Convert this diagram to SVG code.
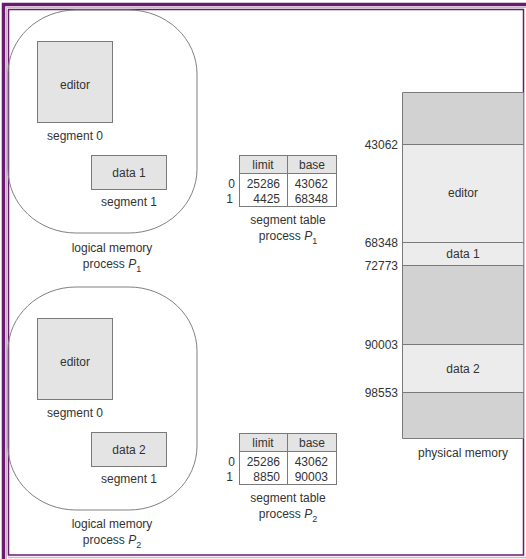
<svg xmlns="http://www.w3.org/2000/svg" width="526" height="559" viewBox="0 0 526 559">
<style>
text{font-family:"Liberation Sans",Arial,sans-serif;font-size:12px;fill:#333}
.m{text-anchor:middle}
.e{text-anchor:end}
.blob{fill:none;stroke:#808080;stroke-width:1}
.seg{fill:#e4e4e4;stroke:#7a7a7a;stroke-width:1}
.hdr{fill:#e4e4e4;stroke:none}
.tl{fill:none;stroke:#7a7a7a;stroke-width:1}
.dark{fill:#d2d2d2}
.light{fill:#ececec}
.div{stroke:#7a7a7a;stroke-width:1}
</style>
<rect width="526" height="559" fill="#fff"/>
<g id="frame">
<path d="M3.5,559 V4.5 H526" fill="none" stroke="#6a1b6e" stroke-width="3.5"/>
<path d="M6.5,559 V7.5 H526" fill="none" stroke="#cbb6cc" stroke-width="1"/>
<rect x="8.5" y="9.5" width="515" height="545.5" fill="none" stroke="#6a1b6e" stroke-width="1.5"/>
<line x1="8" y1="557.5" x2="526" y2="557.5" stroke="#c9bfcb" stroke-width="1.5"/>
</g>
<g id="logical-memory-p1">
<rect class="blob" x="8" y="10" width="189" height="223" rx="68" ry="64"/>
<rect class="seg" x="37.5" y="41.5" width="75" height="81"/>
<text class="m" x="75" y="89">editor</text>
<text class="m" x="75" y="140">segment 0</text>
<rect class="seg" x="91.5" y="155.5" width="75" height="34"/>
<text class="m" x="129" y="177">data 1</text>
<text class="m" x="129" y="206">segment 1</text>
<text class="m" x="112" y="252">logical memory</text>
<text class="m" x="112" y="268">process <tspan font-style="italic">P</tspan><tspan dy="4" font-size="9">1</tspan></text>
</g>
<g id="logical-memory-p2">
<rect class="blob" x="8" y="287" width="189" height="223" rx="68" ry="64"/>
<rect class="seg" x="37.5" y="318.5" width="75" height="81"/>
<text class="m" x="75" y="366">editor</text>
<text class="m" x="75" y="417">segment 0</text>
<rect class="seg" x="91.5" y="432.5" width="75" height="34"/>
<text class="m" x="129" y="454">data 2</text>
<text class="m" x="129" y="483">segment 1</text>
<text class="m" x="112" y="528">logical memory</text>
<text class="m" x="112" y="544">process <tspan font-style="italic">P</tspan><tspan dy="4" font-size="9">2</tspan></text>
</g>
<g id="segment-table-p1">
<rect class="hdr" x="239.5" y="155.5" width="97" height="18"/>
<rect class="tl" x="239.5" y="155.5" width="97" height="51"/>
<line class="div" x1="239.5" y1="173.5" x2="336.5" y2="173.5"/>
<line class="div" x1="287.5" y1="155.5" x2="287.5" y2="206.5"/>
<text class="m" x="263" y="169">limit</text>
<text class="m" x="312" y="169">base</text>
<text class="e" x="235" y="188">0</text>
<text class="e" x="233" y="203">1</text>
<text class="e" x="280" y="188">25286</text>
<text class="e" x="280" y="203">4425</text>
<text class="e" x="328" y="188">43062</text>
<text class="e" x="328" y="203">68348</text>
<text class="m" x="288" y="224">segment table</text>
<text class="m" x="288" y="240">process <tspan font-style="italic">P</tspan><tspan dy="4" font-size="9">1</tspan></text>
</g>
<g id="segment-table-p2">
<rect class="hdr" x="239.5" y="433.5" width="97" height="18"/>
<rect class="tl" x="239.5" y="433.5" width="97" height="51"/>
<line class="div" x1="239.5" y1="451.5" x2="336.5" y2="451.5"/>
<line class="div" x1="287.5" y1="433.5" x2="287.5" y2="484.5"/>
<text class="m" x="263" y="447">limit</text>
<text class="m" x="312" y="447">base</text>
<text class="e" x="235" y="466">0</text>
<text class="e" x="233" y="481">1</text>
<text class="e" x="280" y="466">25286</text>
<text class="e" x="280" y="481">8850</text>
<text class="e" x="328" y="466">43062</text>
<text class="e" x="328" y="481">90003</text>
<text class="m" x="288" y="502">segment table</text>
<text class="m" x="288" y="518">process <tspan font-style="italic">P</tspan><tspan dy="4" font-size="9">2</tspan></text>
</g>
<g id="physical-memory">
<rect class="dark" x="402.5" y="92.5" width="121" height="52"/>
<rect class="light" x="402.5" y="144.5" width="121" height="98"/>
<rect class="light" x="402.5" y="242.5" width="121" height="23"/>
<rect class="dark" x="402.5" y="265.5" width="121" height="79"/>
<rect class="light" x="402.5" y="344.5" width="121" height="48"/>
<rect class="dark" x="402.5" y="392.5" width="121" height="46"/>
<path d="M523.5,92.5 H402.5 V438.5 H523.5" fill="none" stroke="#7a7a7a" stroke-width="1"/>
<line class="div" x1="402.5" y1="144.5" x2="523.5" y2="144.5"/>
<line class="div" x1="402.5" y1="242.5" x2="523.5" y2="242.5"/>
<line class="div" x1="402.5" y1="265.5" x2="523.5" y2="265.5"/>
<line class="div" x1="402.5" y1="344.5" x2="523.5" y2="344.5"/>
<line class="div" x1="402.5" y1="392.5" x2="523.5" y2="392.5"/>
<text class="e" x="398" y="149">43062</text>
<text class="e" x="398" y="247">68348</text>
<text class="e" x="398" y="270">72773</text>
<text class="e" x="398" y="349">90003</text>
<text class="e" x="398" y="397">98553</text>
<text class="m" x="463" y="197">editor</text>
<text class="m" x="463" y="258">data 1</text>
<text class="m" x="463" y="373">data 2</text>
<text class="m" x="463" y="457">physical memory</text>
</g>
<g id="connectors"/>
</svg>
